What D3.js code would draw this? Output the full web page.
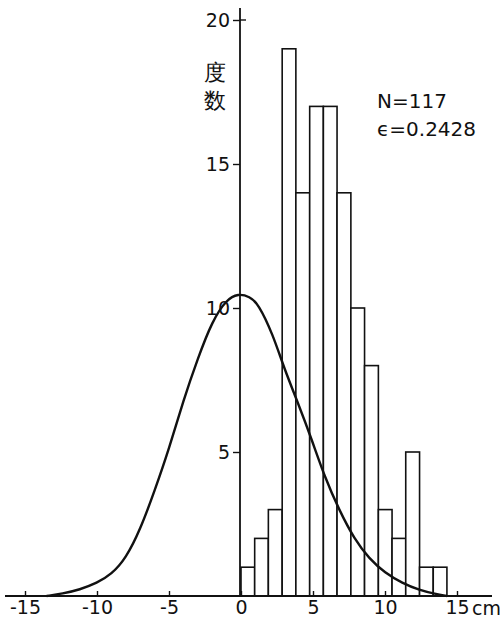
<!DOCTYPE html>
<html>
<head>
<meta charset="utf-8">
<script src="https://cdn.jsdelivr.net/npm/d3@7"></script>
<style>
  html, body { margin: 0; padding: 0; background: #fff; }
  svg { display: block; }
  text { font-family: "DejaVu Sans", "Liberation Sans", sans-serif; fill: #111; }
</style>
</head>
<body>
<svg id="chart" width="500" height="623"></svg>
<script>
// ---- data ----
const binStarts = [0, 0.95, 1.9, 2.86, 3.81, 4.77, 5.72, 6.67, 7.63, 8.58, 9.54, 10.49, 11.44, 12.4, 13.35];
const binEnd = 14.3;
const counts = [1, 2, 3, 19, 14, 17, 17, 14, 10, 8, 3, 2, 5, 1, 1];

const curveX = [-13.5, -12.4, -11.2, -10, -9, -8, -7, -6, -5, -4, -3, -2, -1, -0.2, 0.6, 1.2, 2.2, 3.0, 4.0, 4.9, 5.8, 6.8, 7.9, 8.9, 10.0, 11.2, 12.4, 13.5, 14.3];
const curveY = [0, 0.08, 0.22, 0.45, 0.75, 1.3, 2.3, 3.65, 5.1, 6.8, 8.25, 9.55, 10.3, 10.5, 10.4, 10.15, 9.1, 7.9, 6.65, 5.45, 4.15, 3.0, 1.95, 1.3, 0.8, 0.45, 0.2, 0.07, 0];

const xTicks = [-15, -10, -5, 0, 5, 10, 15];
const yTicks = [5, 10, 15, 20];
const yLabel = ["度", "数"];
const statN = "N=117";
const statE = "ϵ=0.2428";
const xUnit = "cm";

// ---- scales ----
const svg = d3.select("#chart");
const x = d3.scaleLinear().domain([-15, 15]).range([25, 457]);
const y = d3.scaleLinear().domain([0, 20]).range([596, 20]);

// ---- bars ----
const bars = binStarts.map((s, i) => ({ x0: s, x1: i < binStarts.length - 1 ? binStarts[i + 1] : binEnd, c: counts[i] }));
svg.append("g").selectAll("rect").data(bars).join("rect")
  .attr("x", d => x(d.x0))
  .attr("y", d => y(d.c))
  .attr("width", d => x(d.x1) - x(d.x0))
  .attr("height", d => y(0) - y(d.c))
  .attr("fill", "#fff")
  .attr("stroke", "#111")
  .attr("stroke-width", 1.6);

// ---- curve ----
const pts = curveX.map((v, i) => [v, curveY[i]]);
svg.append("path")
  .datum(pts)
  .attr("fill", "none")
  .attr("stroke", "#111")
  .attr("stroke-width", 2.4)
  .attr("d", d3.line().x(d => x(d[0])).y(d => y(d[1])).curve(d3.curveBasis));

// ---- x axis ----
svg.append("line")
  .attr("x1", 5).attr("x2", 492)
  .attr("y1", y(0)).attr("y2", y(0))
  .attr("stroke", "#111").attr("stroke-width", 1.8);

const xAxis = d3.axisBottom(x)
  .tickValues(xTicks)
  .tickSizeInner(-5)
  .tickSizeOuter(0)
  .tickPadding(5)
  .tickFormat(d => d < 0 ? "-" + Math.abs(d) : String(d));
const gx = svg.append("g").attr("transform", `translate(0,${y(0)})`).call(xAxis);
gx.select(".domain").remove();
gx.selectAll(".tick line").attr("stroke", "#111").attr("stroke-width", 1.4);
gx.selectAll(".tick text").attr("font-size", 19).attr("fill", "#111")
  .attr("font-family", '"DejaVu Sans", sans-serif');

svg.append("text")
  .attr("x", 472).attr("y", 615)
  .attr("font-size", 19)
  .attr("font-family", '"Liberation Sans", sans-serif')
  .text(xUnit);

// ---- y axis ----
svg.append("line")
  .attr("x1", x(0) - 1).attr("x2", x(0) - 1)
  .attr("y1", 8).attr("y2", y(0))
  .attr("stroke", "#111").attr("stroke-width", 1.8);

const yAxis = d3.axisLeft(y)
  .tickValues(yTicks)
  .tickSizeInner(7)
  .tickSizeOuter(0)
  .tickPadding(3)
  .tickFormat(d => String(d));
const gy = svg.append("g").attr("transform", `translate(${x(0) - 1},0)`).call(yAxis);
gy.select(".domain").remove();
gy.selectAll(".tick line").attr("stroke", "#111").attr("stroke-width", 1.4);
gy.selectAll(".tick text").attr("font-size", 19).attr("fill", "#111")
  .attr("font-family", '"DejaVu Sans", sans-serif');
// small tick to the right of the axis at 20
svg.append("line")
  .attr("x1", x(0) - 1).attr("x2", x(0) + 5)
  .attr("y1", y(20)).attr("y2", y(20))
  .attr("stroke", "#111").attr("stroke-width", 1.4);

// ---- y label (vertical) ----
svg.append("g").selectAll("text").data(yLabel).join("text")
  .attr("x", 215)
  .attr("y", (d, i) => 80 + i * 28)
  .attr("text-anchor", "middle")
  .attr("font-size", 22)
  .attr("font-family", '"Noto Sans CJK JP", "Noto Sans CJK SC", sans-serif')
  .text(d => d);

// ---- stats ----
svg.append("text").attr("x", 377).attr("y", 108).attr("font-size", 20)
  .attr("font-family", '"Liberation Sans", sans-serif')
  .text(statN);
svg.append("text").attr("x", 377).attr("y", 136).attr("font-size", 20)
  .attr("font-family", '"DejaVu Sans", sans-serif')
  .text(statE);
</script>
</body>
</html>
